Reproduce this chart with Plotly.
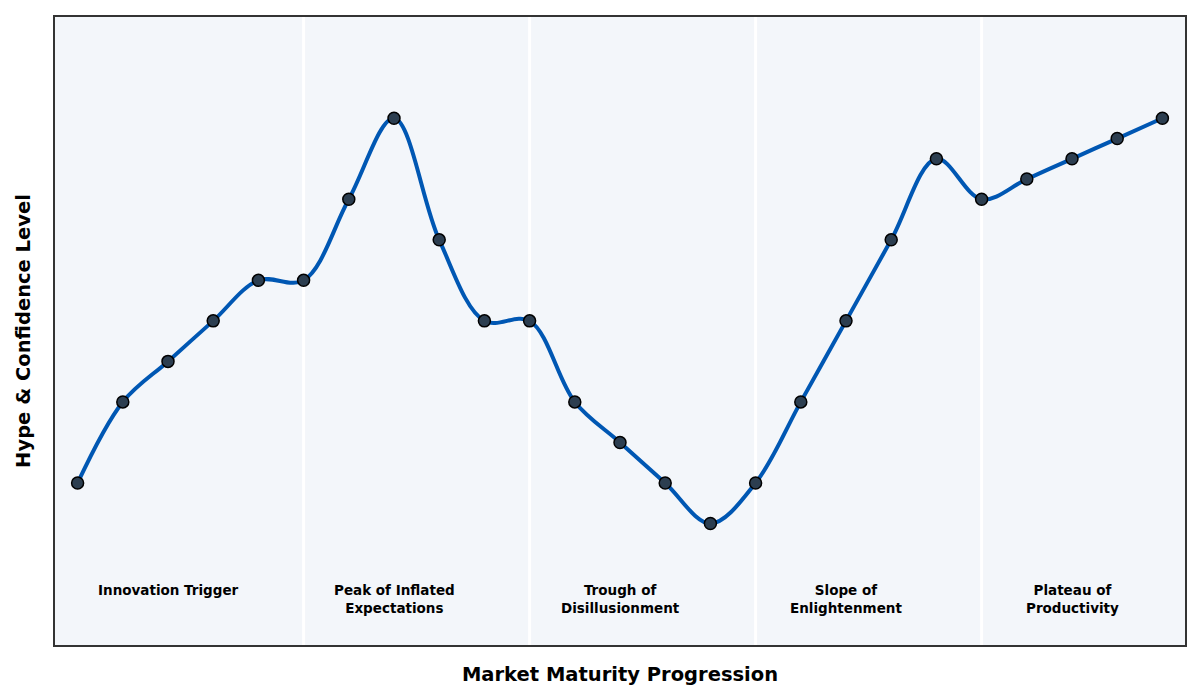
import plotly.graph_objects as go

# Hype cycle data
stage = list(range(25))
hype = [4, 6, 7, 8, 9, 9, 11, 13, 10, 8, 8, 6, 5, 4, 3, 4, 6, 8, 10, 12, 11, 11.5, 12, 12.5, 13]

phase_names = ['Innovation Trigger', 'Peak of Inflated<br>Expectations', 'Trough of<br>Disillusionment',
               'Slope of<br>Enlightenment', 'Plateau of<br>Productivity']
phase_centers = [2, 7, 12, 17, 22]
phase_bounds = [5, 10, 15, 20]

fig = go.Figure()

fig.add_trace(go.Scatter(
    x=stage,
    y=hype,
    mode='lines+markers',
    line=dict(color='#0057b3', width=4, shape='spline', smoothing=1.0),
    marker=dict(size=12, color='#2c3e50', line=dict(color='black', width=1.5)),
    showlegend=False
))

# phase separators
for b in phase_bounds:
    fig.add_vline(x=b, line=dict(color='white', width=3), layer='below')

# phase labels
for name, cx in zip(phase_names, phase_centers):
    fig.add_annotation(
        x=cx, y=1.6, text='<b>' + name + '</b>', showarrow=False,
        font=dict(size=13.5, color='black', family='DejaVu Sans'),
        xanchor='center', yanchor='top'
    )

fig.update_layout(
    width=1200,
    height=700,
    margin=dict(l=47, r=23, t=7, b=63),
    plot_bgcolor='#f3f6fa',
    paper_bgcolor='white',
    font=dict(family='DejaVu Sans', color='black'),
    xaxis=dict(
        title=dict(text='<b>Market Maturity Progression</b>', font=dict(size=19.5), standoff=21),
        range=[-0.5, 24.5],
        showticklabels=False,
        showgrid=False,
        zeroline=False,
        showline=True, linecolor='#333333', linewidth=2, mirror=True,
        ticks=''
    ),
    yaxis=dict(
        title=dict(text='<b>Hype & Confidence Level</b>', font=dict(size=19.5), standoff=17),
        range=[0, 15.5],
        showticklabels=False,
        showgrid=False,
        zeroline=False,
        showline=True, linecolor='#333333', linewidth=2, mirror=True,
        ticks=''
    )
)

fig.write_html("out.html")
